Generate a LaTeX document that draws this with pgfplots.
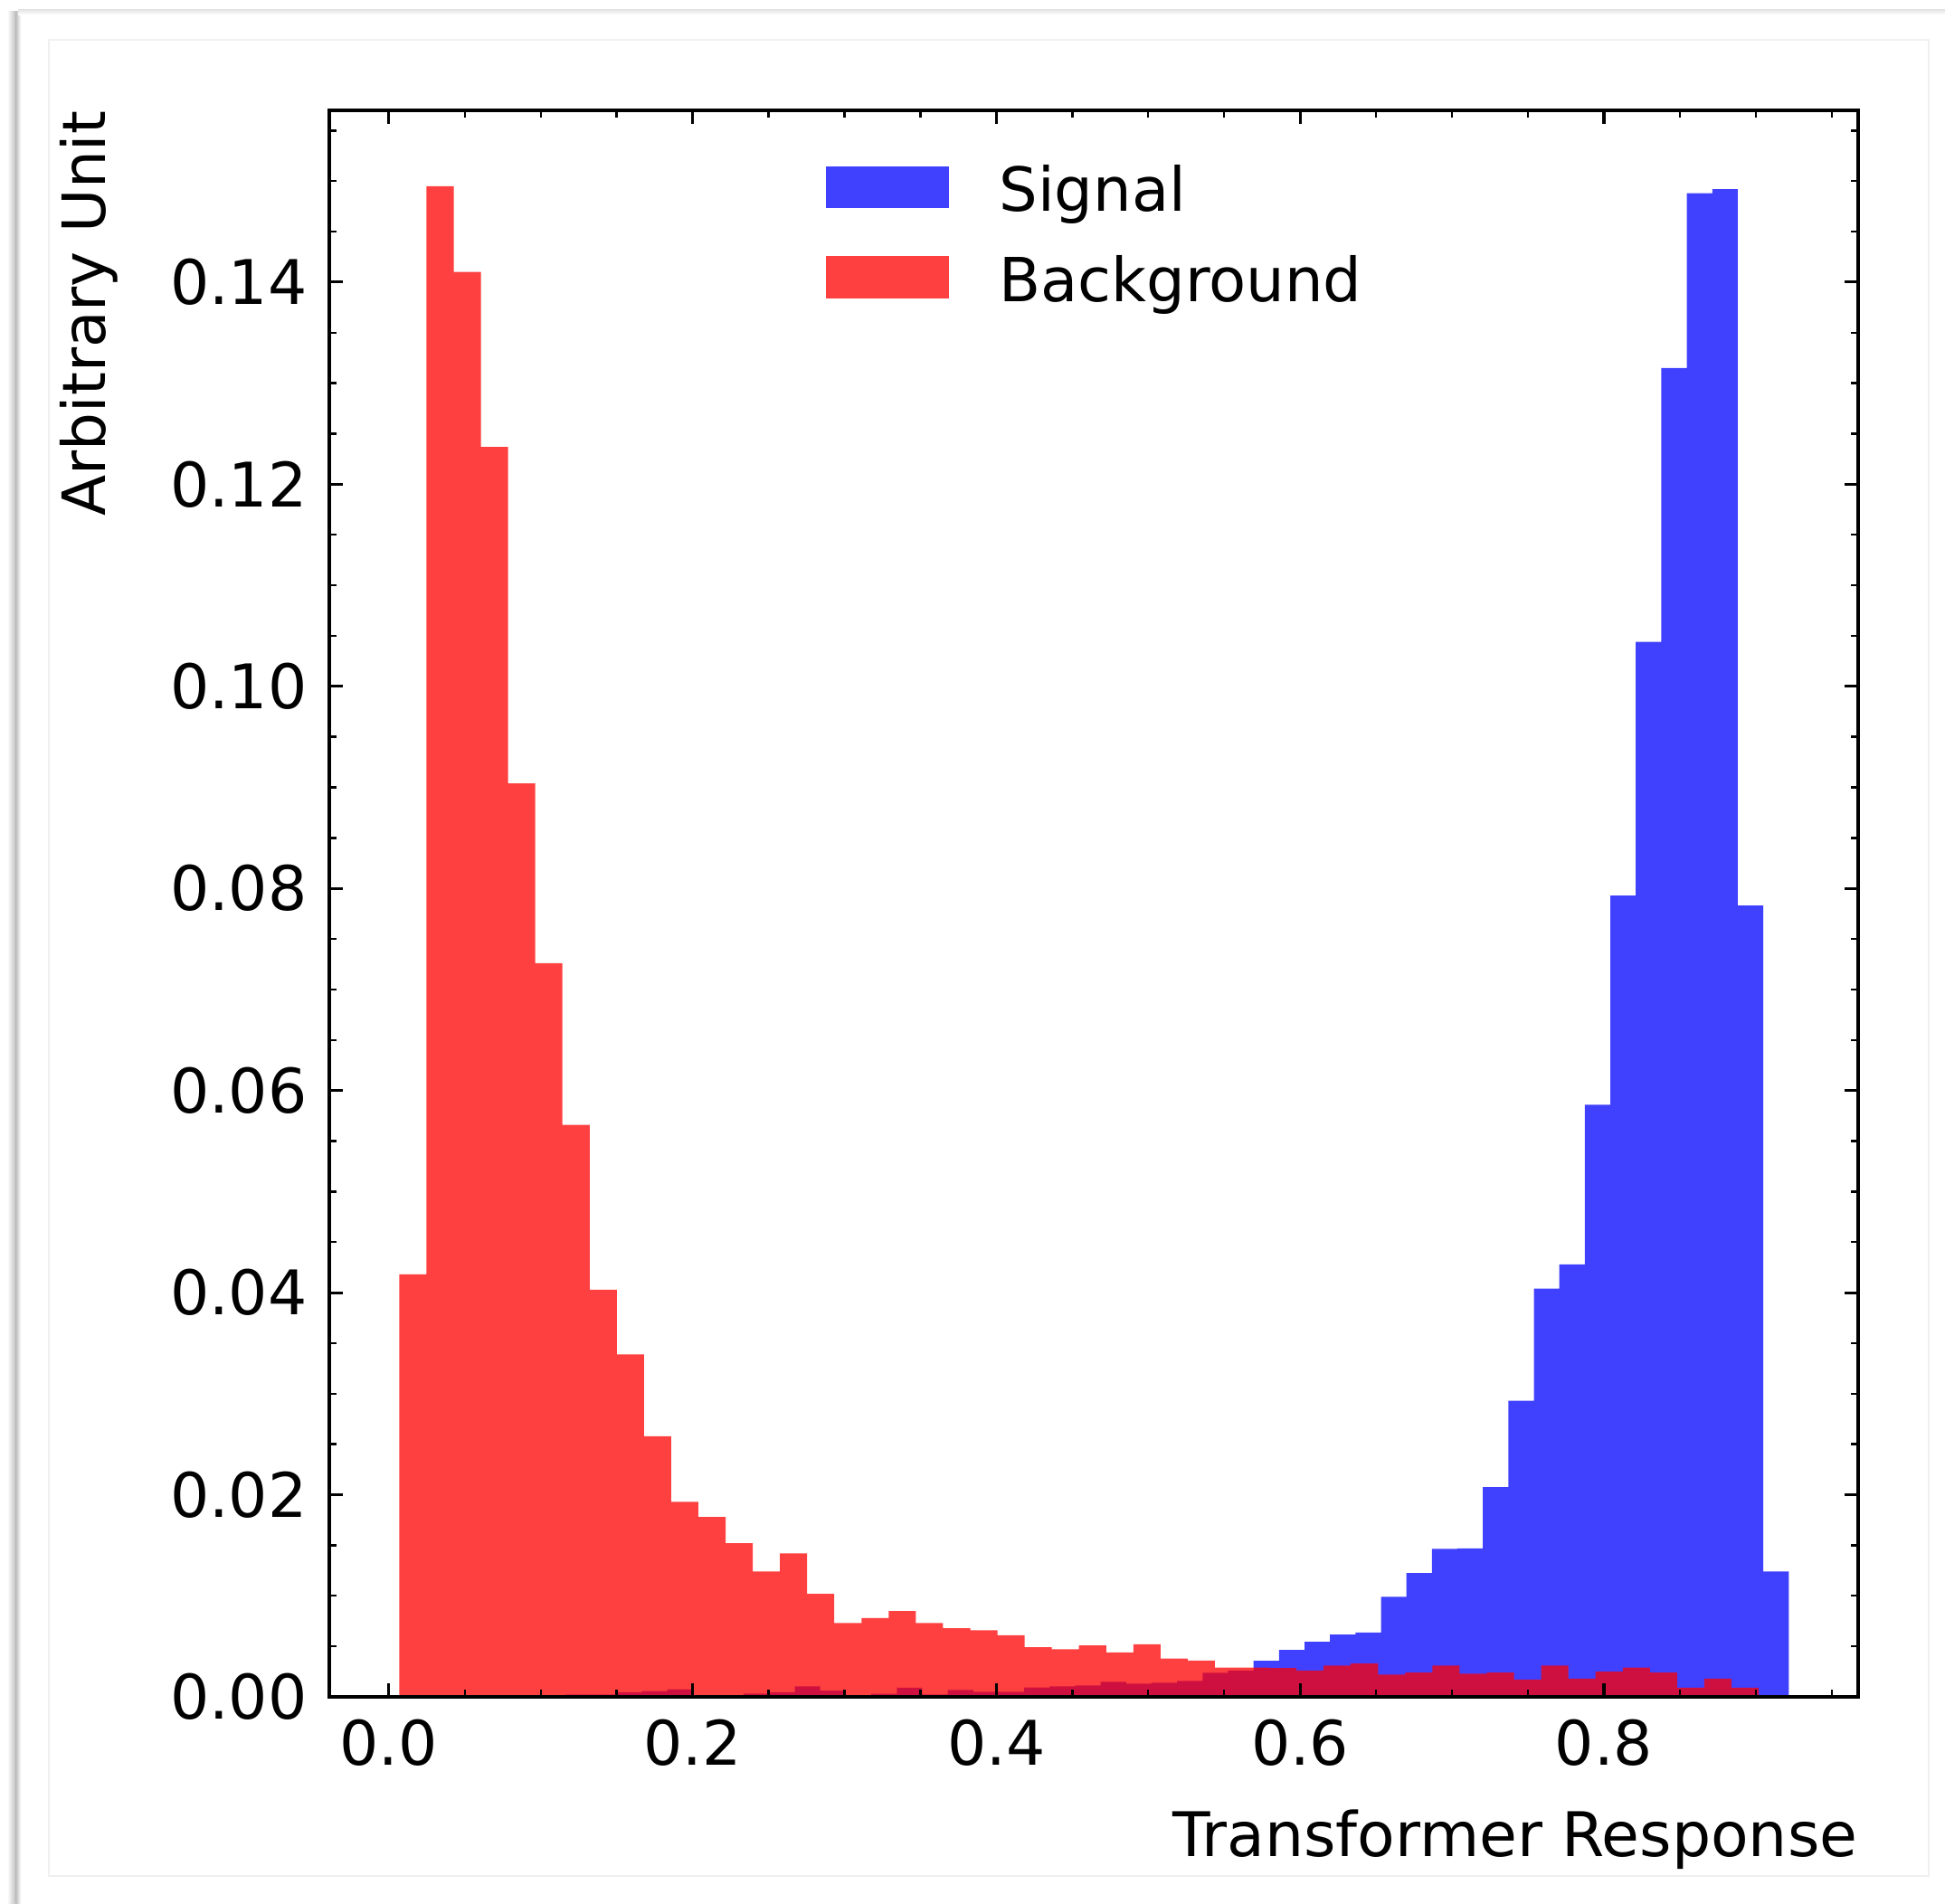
\documentclass[border=0pt]{standalone}
\usepackage{fontspec}
\setmainfont{DejaVu Sans}
\usepackage{pgfplots}
\pgfplotsset{compat=1.18}
\newcommand\ff{\fontsize{17}{20.4}\selectfont}
\newcommand\fl{\fontsize{16.8}{20.2}\selectfont}
\newcommand\fy{\fontsize{16.5}{19.8}\selectfont}

\begin{document}
\begin{tikzpicture}
\useasboundingbox (0,0) rectangle (537.5pt,526.25pt);
% faint screenshot frame around the figure
\shade[left color=white, right color=black!25] (2pt,0) rectangle (4.4pt,523pt);
\shade[left color=black!25, right color=white] (4.4pt,0) rectangle (5.8pt,523pt);
\shade[top color=black!10, bottom color=white] (5pt,523.5pt) rectangle (537.5pt,522.2pt);
\draw[black!6, line width=0.3pt] (13.5pt,7.75pt) rectangle (533pt,515.25pt);

\begin{axis}[
  at={(91pt,57.25pt)}, anchor=south west,
  width=422.5pt, height=438.5pt, scale only axis,
  xmin=-0.0392, xmax=0.9674, ymin=0, ymax=0.1570,
  font=\ff,
  axis on top,
  axis line style={line width=0.8pt},
  xtick={0,0.2,0.4,0.6,0.8},
  xticklabels={0.0,0.2,0.4,0.6,0.8},
  minor xtick={0.05,0.1,0.15,0.25,0.3,0.35,0.45,0.5,0.55,0.65,0.7,0.75,0.85,0.9,0.95},
  ytick={0,0.02,0.04,0.06,0.08,0.10,0.12,0.14},
  yticklabels={0.00,0.02,0.04,0.06,0.08,0.10,0.12,0.14},
  minor ytick={0.005,0.01,0.015,0.025,0.03,0.035,0.045,0.05,0.055,0.065,0.07,0.075,
    0.085,0.09,0.095,0.105,0.11,0.115,0.125,0.13,0.135,0.145,0.15,0.155},
  tick align=inside, tick pos=both,
  xticklabel pos=lower, yticklabel pos=left,
  major tick length=3.8pt, minor tick length=2.1pt,
  major tick style={line width=0.8pt, black},
  minor tick style={line width=0.6pt, black},
  tick label style={font=\ff},
  xticklabel style={yshift=-2.7pt},
  yticklabel style={xshift=-2.6pt},
  xlabel={Transformer Response},
  ylabel={Arbitrary Unit},
  xlabel style={font=\ff, at={(axis description cs:1,-0.1009)}, anchor=base east, inner sep=0pt},
  ylabel style={font=\fy, at={(axis description cs:-0.1467,1)}, anchor=base east, inner sep=0pt},
  legend style={draw=none, fill=none, font=\fl, at={(0.5024,0.9705)}, anchor=north,
    inner xsep=0pt, inner ysep=0pt, row sep=6.6pt, column sep=0pt,
    nodes={inner sep=2pt, text depth=0.15em}},
  legend cell align=left,
  legend image code/.code={\fill[#1] (0pt,-4.8pt) rectangle (34pt,6.85pt); \path (46pt,0pt);},
]
% Signal: 50 bins, left edges with heights, last edge repeats the last height
\addplot[const plot, fill=blue, fill opacity=0.75, draw=none] coordinates {
  (0.0827,0) (0.09948,0) (0.11626,0.00024) (0.13304,0.00024) (0.14982,0.00045)
  (0.1666,0.00058) (0.18338,0.00075) (0.20016,0.00005) (0.21694,0.00015) (0.23372,0.00033)
  (0.2505,0.00045) (0.26728,0.00105) (0.28406,0.00062) (0.30084,0.00012) (0.31762,0.0003)
  (0.3344,0.0009) (0.35118,0.00024) (0.36796,0.00069) (0.38474,0.00051) (0.40152,0.00051)
  (0.4183,0.00092) (0.43508,0.00104) (0.45186,0.00113) (0.46864,0.00149) (0.48542,0.00131)
  (0.5022,0.0014) (0.51898,0.00158) (0.53576,0.00239) (0.55254,0.0026) (0.56932,0.00356)
  (0.5861,0.00465) (0.60288,0.00545) (0.61966,0.00616) (0.63644,0.00637) (0.65322,0.0099)
  (0.67,0.01225) (0.68678,0.01465) (0.70356,0.01468) (0.72034,0.02075) (0.73712,0.0293)
  (0.7539,0.0404) (0.77068,0.0428) (0.78746,0.0586) (0.80424,0.0793) (0.82102,0.1044)
  (0.8378,0.1315) (0.85458,0.1488) (0.87136,0.1492) (0.88814,0.0783) (0.90492,0.0124)
  (0.9217,0.0124)
} \closedcycle;
\addlegendentry{Signal}
% Background
\addplot[const plot, fill=red, fill opacity=0.75, draw=none] coordinates {
  (0.0069,0.0418) (0.0248,0.1495) (0.0427,0.1410) (0.0606,0.1237) (0.0785,0.0904)
  (0.0964,0.0726) (0.1143,0.0566) (0.1322,0.0403) (0.1501,0.0339) (0.1680,0.0258)
  (0.1859,0.0193) (0.2038,0.0178) (0.2217,0.0152) (0.2396,0.0124) (0.2575,0.0142)
  (0.2754,0.0102) (0.2933,0.0073) (0.3112,0.0078) (0.3291,0.0085) (0.3470,0.0073)
  (0.3649,0.0068) (0.3828,0.0066) (0.4007,0.0061) (0.4186,0.0049) (0.4365,0.0047)
  (0.4544,0.0051) (0.4723,0.0044) (0.4902,0.0052) (0.5081,0.0038) (0.5260,0.0036)
  (0.5439,0.0029) (0.5618,0.0029) (0.5797,0.00285) (0.5976,0.0026) (0.6155,0.0031)
  (0.6334,0.0033) (0.6513,0.0022) (0.6692,0.0024) (0.6871,0.0031) (0.7050,0.0023)
  (0.7229,0.0024) (0.7408,0.0017) (0.7587,0.0031) (0.7766,0.0018) (0.7945,0.0025)
  (0.8124,0.0029) (0.8303,0.0024) (0.8482,0.0009) (0.8661,0.0018) (0.8840,0.0009)
  (0.9019,0.0009)
} \closedcycle;
\addlegendentry{Background}
\end{axis}
\end{tikzpicture}
\end{document}
